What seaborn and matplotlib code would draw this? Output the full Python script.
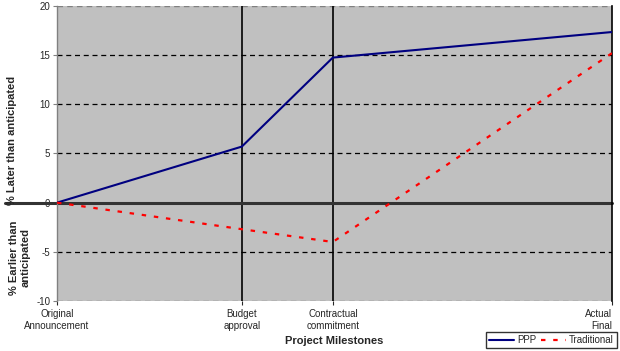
import pandas as pd
import seaborn as sns
import matplotlib.pyplot as plt
import numpy as np

# milestone position on the project timeline (fraction) and labels
milestones = ["Original\nAnnouncement", "Budget\napproval", "Contractual\ncommitment", "Actual\nFinal"]
timeline = [0.0, 0.333, 0.497, 1.0]
ppp = [0.0, 5.7, 14.75, 17.35]
traditional = [0.0, -2.7, -4.0, 15.2]

data = pd.DataFrame({
    "timeline": timeline * 2,
    "pct": ppp + traditional,
    "type": ["PPP"] * 4 + ["Traditional"] * 4,
})

sns.set_style("white")
plt.rcParams["font.family"] = ["Liberation Sans", "DejaVu Sans"]
plt.rcParams["axes.unicode_minus"] = False

fig = plt.figure(figsize=(6.2, 3.51), dpi=100)
ax = fig.add_axes([0.092, 0.1425, 0.895, 0.8405])
ax.set_facecolor("#C0C0C0")

# dashed horizontal grid
for yv in [-5, 5, 10, 15]:
    ax.axhline(yv, color="black", linestyle=(0, (4, 3)), linewidth=0.9, zorder=1)
for yv in [-10, 20]:
    ax.axhline(yv, color="#808080", linestyle=(0, (4, 3)), linewidth=1.0, zorder=1)

# milestone verticals
for xv in timeline[1:3]:
    ax.axvline(xv, color="black", linewidth=1.2, zorder=1)

# zero line extends past the axis
ax.axhline(0, xmin=-0.094, xmax=1, color="#333333", linewidth=2.2, clip_on=False, zorder=2)

sns.lineplot(data=data[data["type"] == "PPP"], x="timeline", y="pct", color="#000080",
             linewidth=1.5, label="PPP", ax=ax, zorder=3)
sns.lineplot(data=data[data["type"] == "Traditional"], x="timeline", y="pct", color="#FF0000",
             linewidth=1.6, linestyle=(0, (2, 3.5)), label="Traditional", ax=ax, zorder=3)

ax.set_xlim(0, 1)
ax.set_ylim(-10, 20)
ax.set_yticks(np.arange(-10, 25, 5))
ax.set_xticks(timeline)
ax.set_xticklabels(milestones, fontsize=7)
ax.get_xticklabels()[-1].set_horizontalalignment("right")
ax.tick_params(axis="y", labelsize=7, length=3, color="#808080", pad=2, left=True)
ax.tick_params(axis="x", length=3, pad=3, bottom=True)

for s in ["top", "bottom"]:
    ax.spines[s].set_visible(False)
ax.spines["left"].set_color("#808080")
ax.spines["left"].set_linewidth(1.0)
ax.spines["right"].set_color("black")
ax.spines["right"].set_linewidth(1.2)

ax.set_xlabel("Project Milestones", fontsize=8, fontweight="bold", labelpad=4)
ax.set_ylabel("")
fig.text(0.02, 0.60, "% Later than anticipated", rotation=90, fontsize=8, fontweight="bold",
         ha="center", va="center")
fig.text(0.032, 0.265, "% Earlier than\nanticipated", rotation=90, fontsize=8, fontweight="bold",
         ha="center", va="center", multialignment="center")

leg = ax.legend(loc="lower right", bbox_to_anchor=(0.995, 0.008), bbox_transform=fig.transFigure,
                ncol=2, fontsize=7, frameon=True, fancybox=False, edgecolor="black",
                handlelength=2.6, handletextpad=0.3, columnspacing=0.5, borderpad=0.3,
                borderaxespad=0)
leg.get_frame().set_linewidth(1.0)

fig.savefig("out.png", dpi=100)
